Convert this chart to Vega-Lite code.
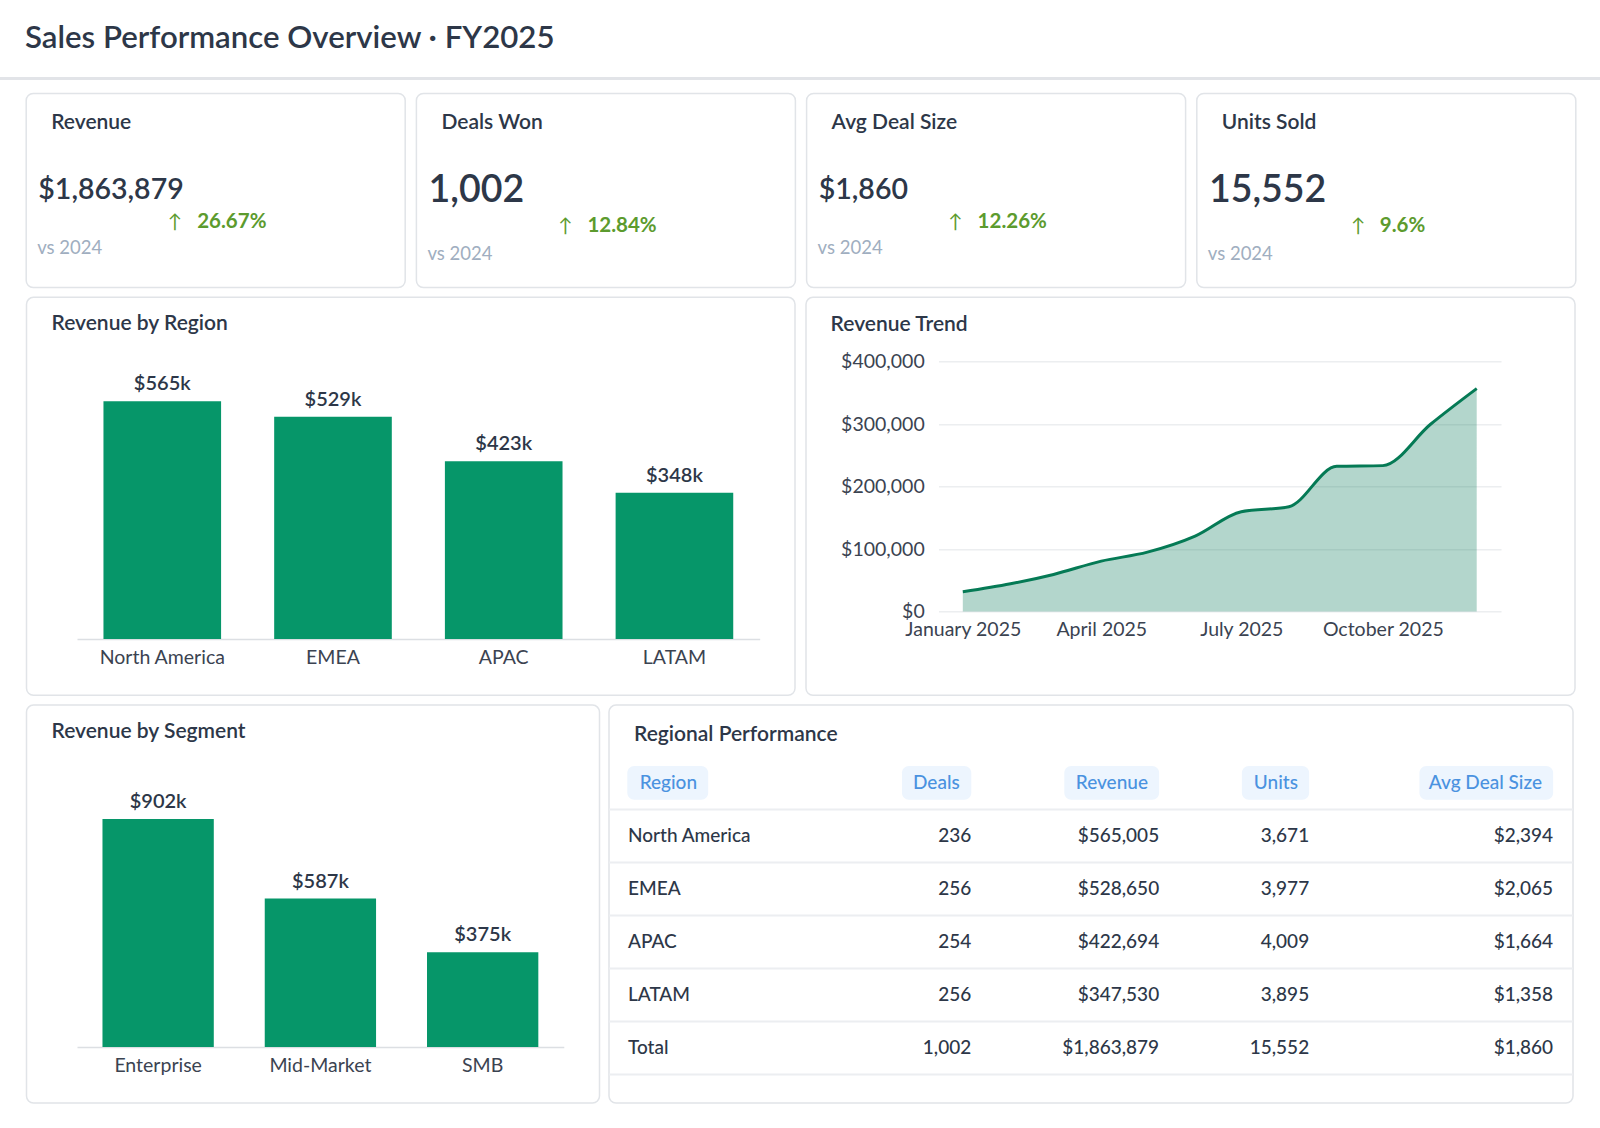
{
  "$schema": "https://vega.github.io/schema/vega-lite/v6.json",
  "background": "#ffffff",
  "padding": {"top": 23, "left": 0, "right": 0, "bottom": 0},
  "config": {
    "font": "Lato",
    "view": {"stroke": "#e1e4e8", "strokeWidth": 1.5, "cornerRadius": 7, "fill": "#ffffff"},
    "title": {"font": "Lato", "fontSize": 21, "fontWeight": 600, "color": "#2d3748", "anchor": "start", "frame": "group"},
    "axis": {"labelFont": "Lato", "labelFontSize": 19.5, "labelColor": "#3b4351", "domain": false, "ticks": false, "tickSize": 0, "grid": false, "title": null, "labelAngle": 0},
    "text": {"font": "Lato"}
  },
  "datasets": {
    "kpi": [
      {"metric": "Revenue", "value": 1863879, "change": 0.2667, "comparison": "vs 2024"},
      {"metric": "Deals Won", "value": 1002, "change": 0.1284, "comparison": "vs 2024"},
      {"metric": "Avg Deal Size", "value": 1860, "change": 0.1226, "comparison": "vs 2024"},
      {"metric": "Units Sold", "value": 15552, "change": 0.096, "comparison": "vs 2024"}
    ],
    "regions": [
      {"region": "North America", "deals": 236, "revenue": 565005, "units": 3671, "avg_deal": 2394},
      {"region": "EMEA", "deals": 256, "revenue": 528650, "units": 3977, "avg_deal": 2065},
      {"region": "APAC", "deals": 254, "revenue": 422694, "units": 4009, "avg_deal": 1664},
      {"region": "LATAM", "deals": 256, "revenue": 347530, "units": 3895, "avg_deal": 1358},
      {"region": "Total", "deals": 1002, "revenue": 1863879, "units": 15552, "avg_deal": 1860}
    ],
    "segments": [
      {"segment": "Enterprise", "revenue": 901842},
      {"segment": "Mid-Market", "revenue": 586951},
      {"segment": "SMB", "revenue": 375086}
    ],
    "trend": [
      {"month": "2025-01-01", "revenue": 31500},
      {"month": "2025-02-01", "revenue": 44300},
      {"month": "2025-03-01", "revenue": 59300},
      {"month": "2025-04-01", "revenue": 80600},
      {"month": "2025-05-01", "revenue": 95000},
      {"month": "2025-06-01", "revenue": 120700},
      {"month": "2025-07-01", "revenue": 159700},
      {"month": "2025-08-01", "revenue": 167700},
      {"month": "2025-09-01", "revenue": 232300},
      {"month": "2025-10-01", "revenue": 233400},
      {"month": "2025-11-01", "revenue": 299600},
      {"month": "2025-12-01", "revenue": 356700}
    ]
  },
  "spacing": 12.5,
  "vconcat": [
    {
      "width": 1600, "height": 3,
      "title": {"text": "Sales Performance Overview · FY2025", "fontSize": 31.2, "offset": 22.4, "dx": 25},
      "view": {"fill": "#e2e4e8", "stroke": null, "cornerRadius": 0},
      "data": {"values": [{}]},
      "mark": {"type": "point", "opacity": 0, "size": 0, "strokeWidth": 0},
      "encoding": {}
    },
    {
      "spacing": 7.8,
      "vconcat": [
        {
          "spacing": 9.2,
          "hconcat": [
            {"width": 15.55, "height": 2, "view": {"stroke": null, "fill": null}, "data": {"values": [{}]}, "mark": {"type": "point", "opacity": 0, "size": 0, "strokeWidth": 0}, "encoding": {}},
            {
              "width": 379, "height": 194,
              "title": {"text": "Revenue", "offset": -39.7, "dx": 25},
              "data": {"name": "kpi"},
              "transform": [{"filter": "datum.metric === 'Revenue'"}],
              "layer": [
                {"mark": {"type": "text", "align": "left", "baseline": "middle", "fontSize": 28.5, "fontWeight": 600, "color": "#2d3748"},
                 "encoding": {"x": {"datum": 3.2, "type": "quantitative", "scale": {"domain": [0, 100], "nice": false, "zero": false}, "axis": null},
                              "y": {"datum": 49.7, "type": "quantitative", "scale": {"domain": [0, 100], "nice": false, "zero": false, "reverse": true}, "axis": null},
                              "text": {"field": "value", "type": "quantitative", "format": "$,.0f"}}},
                {"mark": {"type": "text", "align": "center", "baseline": "middle", "fontSize": 19, "color": "#5c9b2e", "text": "↑"},
                 "encoding": {"x": {"datum": 39.26, "type": "quantitative", "scale": {"domain": [0, 100], "nice": false, "zero": false}, "axis": null},
                              "y": {"datum": 66.4, "type": "quantitative", "scale": {"domain": [0, 100], "nice": false, "zero": false, "reverse": true}, "axis": null}}},
                {"mark": {"type": "text", "align": "left", "baseline": "middle", "fontSize": 20.5, "fontWeight": 700, "color": "#5c9b2e"},
                 "encoding": {"x": {"datum": 45.12, "type": "quantitative", "scale": {"domain": [0, 100], "nice": false, "zero": false}, "axis": null},
                              "y": {"datum": 66.4, "type": "quantitative", "scale": {"domain": [0, 100], "nice": false, "zero": false, "reverse": true}, "axis": null},
                              "text": {"field": "change", "type": "quantitative", "format": ".2~%"}}},
                {"mark": {"type": "text", "align": "left", "baseline": "middle", "fontSize": 18.5, "color": "#a0aec0"},
                 "encoding": {"x": {"datum": 2.9, "type": "quantitative", "scale": {"domain": [0, 100], "nice": false, "zero": false}, "axis": null},
                              "y": {"datum": 79.6, "type": "quantitative", "scale": {"domain": [0, 100], "nice": false, "zero": false, "reverse": true}, "axis": null},
                              "text": {"field": "comparison", "type": "nominal"}}}
              ]
            },
            {
              "width": 379, "height": 194,
              "title": {"text": "Deals Won", "offset": -39.7, "dx": 25},
              "data": {"name": "kpi"},
              "transform": [{"filter": "datum.metric === 'Deals Won'"}],
              "layer": [
                {"mark": {"type": "text", "align": "left", "baseline": "middle", "fontSize": 37.5, "fontWeight": 600, "color": "#2d3748"},
                 "encoding": {"x": {"datum": 3.2, "type": "quantitative", "scale": {"domain": [0, 100], "nice": false, "zero": false}, "axis": null},
                              "y": {"datum": 50.1, "type": "quantitative", "scale": {"domain": [0, 100], "nice": false, "zero": false, "reverse": true}, "axis": null},
                              "text": {"field": "value", "type": "quantitative", "format": ",.0f"}}},
                {"mark": {"type": "text", "align": "center", "baseline": "middle", "fontSize": 19, "color": "#5c9b2e", "text": "↑"},
                 "encoding": {"x": {"datum": 39.3, "type": "quantitative", "scale": {"domain": [0, 100], "nice": false, "zero": false}, "axis": null},
                              "y": {"datum": 68.1, "type": "quantitative", "scale": {"domain": [0, 100], "nice": false, "zero": false, "reverse": true}, "axis": null}}},
                {"mark": {"type": "text", "align": "left", "baseline": "middle", "fontSize": 20.5, "fontWeight": 700, "color": "#5c9b2e"},
                 "encoding": {"x": {"datum": 45.12, "type": "quantitative", "scale": {"domain": [0, 100], "nice": false, "zero": false}, "axis": null},
                              "y": {"datum": 68.1, "type": "quantitative", "scale": {"domain": [0, 100], "nice": false, "zero": false, "reverse": true}, "axis": null},
                              "text": {"field": "change", "type": "quantitative", "format": ".2~%"}}},
                {"mark": {"type": "text", "align": "left", "baseline": "middle", "fontSize": 18.5, "color": "#a0aec0"},
                 "encoding": {"x": {"datum": 2.9, "type": "quantitative", "scale": {"domain": [0, 100], "nice": false, "zero": false}, "axis": null},
                              "y": {"datum": 82.7, "type": "quantitative", "scale": {"domain": [0, 100], "nice": false, "zero": false, "reverse": true}, "axis": null},
                              "text": {"field": "comparison", "type": "nominal"}}}
              ]
            },
            {
              "width": 379, "height": 194,
              "title": {"text": "Avg Deal Size", "offset": -39.7, "dx": 25},
              "data": {"name": "kpi"},
              "transform": [{"filter": "datum.metric === 'Avg Deal Size'"}],
              "layer": [
                {"mark": {"type": "text", "align": "left", "baseline": "middle", "fontSize": 28.5, "fontWeight": 600, "color": "#2d3748"},
                 "encoding": {"x": {"datum": 3.2, "type": "quantitative", "scale": {"domain": [0, 100], "nice": false, "zero": false}, "axis": null},
                              "y": {"datum": 49.7, "type": "quantitative", "scale": {"domain": [0, 100], "nice": false, "zero": false, "reverse": true}, "axis": null},
                              "text": {"field": "value", "type": "quantitative", "format": "$,.0f"}}},
                {"mark": {"type": "text", "align": "center", "baseline": "middle", "fontSize": 19, "color": "#5c9b2e", "text": "↑"},
                 "encoding": {"x": {"datum": 39.26, "type": "quantitative", "scale": {"domain": [0, 100], "nice": false, "zero": false}, "axis": null},
                              "y": {"datum": 66.4, "type": "quantitative", "scale": {"domain": [0, 100], "nice": false, "zero": false, "reverse": true}, "axis": null}}},
                {"mark": {"type": "text", "align": "left", "baseline": "middle", "fontSize": 20.5, "fontWeight": 700, "color": "#5c9b2e"},
                 "encoding": {"x": {"datum": 45.12, "type": "quantitative", "scale": {"domain": [0, 100], "nice": false, "zero": false}, "axis": null},
                              "y": {"datum": 66.4, "type": "quantitative", "scale": {"domain": [0, 100], "nice": false, "zero": false, "reverse": true}, "axis": null},
                              "text": {"field": "change", "type": "quantitative", "format": ".2~%"}}},
                {"mark": {"type": "text", "align": "left", "baseline": "middle", "fontSize": 18.5, "color": "#a0aec0"},
                 "encoding": {"x": {"datum": 2.9, "type": "quantitative", "scale": {"domain": [0, 100], "nice": false, "zero": false}, "axis": null},
                              "y": {"datum": 79.6, "type": "quantitative", "scale": {"domain": [0, 100], "nice": false, "zero": false, "reverse": true}, "axis": null},
                              "text": {"field": "comparison", "type": "nominal"}}}
              ]
            },
            {
              "width": 379, "height": 194,
              "title": {"text": "Units Sold", "offset": -39.7, "dx": 25},
              "data": {"name": "kpi"},
              "transform": [{"filter": "datum.metric === 'Units Sold'"}],
              "layer": [
                {"mark": {"type": "text", "align": "left", "baseline": "middle", "fontSize": 37.5, "fontWeight": 600, "color": "#2d3748"},
                 "encoding": {"x": {"datum": 3.2, "type": "quantitative", "scale": {"domain": [0, 100], "nice": false, "zero": false}, "axis": null},
                              "y": {"datum": 50.1, "type": "quantitative", "scale": {"domain": [0, 100], "nice": false, "zero": false, "reverse": true}, "axis": null},
                              "text": {"field": "value", "type": "quantitative", "format": ",.0f"}}},
                {"mark": {"type": "text", "align": "center", "baseline": "middle", "fontSize": 19, "color": "#5c9b2e", "text": "↑"},
                 "encoding": {"x": {"datum": 42.59, "type": "quantitative", "scale": {"domain": [0, 100], "nice": false, "zero": false}, "axis": null},
                              "y": {"datum": 68.1, "type": "quantitative", "scale": {"domain": [0, 100], "nice": false, "zero": false, "reverse": true}, "axis": null}}},
                {"mark": {"type": "text", "align": "left", "baseline": "middle", "fontSize": 20.5, "fontWeight": 700, "color": "#5c9b2e"},
                 "encoding": {"x": {"datum": 48.28, "type": "quantitative", "scale": {"domain": [0, 100], "nice": false, "zero": false}, "axis": null},
                              "y": {"datum": 68.1, "type": "quantitative", "scale": {"domain": [0, 100], "nice": false, "zero": false, "reverse": true}, "axis": null},
                              "text": {"field": "change", "type": "quantitative", "format": ".2~%"}}},
                {"mark": {"type": "text", "align": "left", "baseline": "middle", "fontSize": 18.5, "color": "#a0aec0"},
                 "encoding": {"x": {"datum": 2.9, "type": "quantitative", "scale": {"domain": [0, 100], "nice": false, "zero": false}, "axis": null},
                              "y": {"datum": 82.7, "type": "quantitative", "scale": {"domain": [0, 100], "nice": false, "zero": false, "reverse": true}, "axis": null},
                              "text": {"field": "comparison", "type": "nominal"}}}
              ]
            }
          ]
        },
        {
          "spacing": 8.5,
          "hconcat": [
            {"width": 16.25, "height": 2, "view": {"stroke": null, "fill": null}, "data": {"values": [{}]}, "mark": {"type": "point", "opacity": 0, "size": 0, "strokeWidth": 0}, "encoding": {}},
            {
              "width": 768.5, "height": 398,
              "title": {"text": "Revenue by Region", "offset": -36.7, "dx": 25},
              "data": {"name": "regions"},
              "transform": [{"filter": "datum.region !== 'Total'"}],
              "encoding": {
                "x": {"field": "region", "type": "nominal", "sort": null,
                      "scale": {"range": [50.5, 733.2], "paddingInner": 0.311, "paddingOuter": 0.155},
                      "axis": {"domain": true, "domainColor": "#dcdfe3", "domainWidth": 1.5, "offset": -56.2, "labelPadding": 9.3}},
                "y": {"field": "revenue", "type": "quantitative", "scale": {"domain": [0, 600000], "range": [341.8, 89.3], "nice": false, "zero": false}, "axis": null}
              },
              "layer": [
                {"mark": {"type": "bar", "color": "#069669"}},
                {"mark": {"type": "text", "baseline": "alphabetic", "dy": -11, "fontSize": 20, "fontWeight": 600, "color": "#2d3748"},
                 "encoding": {"text": {"field": "revenue", "type": "quantitative", "format": "$.3s"}}}
              ]
            },
            {
              "width": 769, "height": 398,
              "title": {"text": "Revenue Trend", "offset": -37.4, "dx": 24.6},
              "data": {"name": "trend"},
              "encoding": {
                "x": {"field": "month", "type": "temporal",
                      "scale": {"type": "utc", "range": [132.5, 695], "padding": 24.3},
                      "axis": {"format": "%B %Y", "tickCount": {"interval": "month", "step": 3}, "offset": -83.8, "labelPadding": 8.5, "labelFlush": false, "labelOverlap": false}},
                "y": {"field": "revenue", "type": "quantitative",
                      "scale": {"domain": [0, 400000], "range": [314.2, 64.2], "nice": false, "zero": false},
                      "axis": {"values": [0, 100000, 200000, 300000, 400000], "format": "$,.0f", "grid": true, "gridColor": "#eceef0", "gridWidth": 1.5, "offset": -132.5, "labelPadding": 14.3}}
              },
              "layer": [
                {"mark": {"type": "area", "interpolate": "monotone", "color": "#047857", "fillOpacity": 0.3}},
                {"mark": {"type": "line", "interpolate": "monotone", "color": "#057a55", "strokeWidth": 3}}
              ]
            }
          ]
        },
        {
          "spacing": 6.5,
          "hconcat": [
            {"width": 18.25, "height": 2, "view": {"stroke": null, "fill": null}, "data": {"values": [{}]}, "mark": {"type": "point", "opacity": 0, "size": 0, "strokeWidth": 0}, "encoding": {}},
            {
              "width": 573, "height": 398,
              "title": {"text": "Revenue by Segment", "offset": -36.7, "dx": 25},
              "data": {"name": "segments"},
              "encoding": {
                "x": {"field": "segment", "type": "nominal", "sort": null,
                      "scale": {"range": [50.5, 537.3], "paddingInner": 0.314, "paddingOuter": 0.157},
                      "axis": {"domain": true, "domainColor": "#dcdfe3", "domainWidth": 1.5, "offset": -56.1, "labelPadding": 9.3}},
                "y": {"field": "revenue", "type": "quantitative", "scale": {"domain": [0, 1000000], "range": [341.9, 89.1], "nice": false, "zero": false}, "axis": null}
              },
              "layer": [
                {"mark": {"type": "bar", "color": "#069669"}},
                {"mark": {"type": "text", "baseline": "alphabetic", "dy": -11, "fontSize": 20, "fontWeight": 600, "color": "#2d3748"},
                 "encoding": {"text": {"field": "revenue", "type": "quantitative", "format": "$.3s"}}}
              ]
            },
            {
              "width": 964, "height": 398,
              "title": {"text": "Regional Performance", "offset": -39.6, "dx": 25},
              "data": {"name": "regions"},
              "layer": [
                {"mark": {"type": "rule", "color": "#eceef1", "strokeWidth": 2},
                 "encoding": {"y": {"field": "region", "type": "nominal", "bandPosition": 1, "scale": {"domain": ["Region", "North America", "EMEA", "APAC", "LATAM", "Total"], "paddingInner": 0, "paddingOuter": 0.7547, "align": 0.641}, "axis": null}}},
                {
                  "data": {"values": [{}]},
                  "layer": [
                    {"mark": {"type": "rule", "color": "#eceef1", "strokeWidth": 2},
                     "encoding": {"y": {"datum": "Region", "type": "nominal", "bandPosition": 1, "scale": {"domain": ["Region", "North America", "EMEA", "APAC", "LATAM", "Total"], "paddingInner": 0, "paddingOuter": 0.7547, "align": 0.641}, "axis": null}}},
                    {"mark": {"type": "bar", "color": "#edf5fe", "cornerRadius": 7, "height": {"band": 0.64}},
                     "encoding": {"x": {"datum": 1.9, "type": "quantitative", "scale": {"domain": [0, 100], "nice": false, "zero": false}, "axis": null}, "x2": {"datum": 10.29},
                                  "y": {"datum": "Region", "type": "nominal", "scale": {"domain": ["Region", "North America", "EMEA", "APAC", "LATAM", "Total"], "paddingInner": 0, "paddingOuter": 0.7547, "align": 0.641}, "axis": null}}},
                    {"mark": {"type": "bar", "color": "#edf5fe", "cornerRadius": 7, "height": {"band": 0.64}},
                     "encoding": {"x": {"datum": 30.39, "type": "quantitative", "scale": {"domain": [0, 100], "nice": false, "zero": false}, "axis": null}, "x2": {"datum": 37.58},
                                  "y": {"datum": "Region", "type": "nominal", "scale": {"domain": ["Region", "North America", "EMEA", "APAC", "LATAM", "Total"], "paddingInner": 0, "paddingOuter": 0.7547, "align": 0.641}, "axis": null}}},
                    {"mark": {"type": "bar", "color": "#edf5fe", "cornerRadius": 7, "height": {"band": 0.64}},
                     "encoding": {"x": {"datum": 47.23, "type": "quantitative", "scale": {"domain": [0, 100], "nice": false, "zero": false}, "axis": null}, "x2": {"datum": 57.07},
                                  "y": {"datum": "Region", "type": "nominal", "scale": {"domain": ["Region", "North America", "EMEA", "APAC", "LATAM", "Total"], "paddingInner": 0, "paddingOuter": 0.7547, "align": 0.641}, "axis": null}}},
                    {"mark": {"type": "bar", "color": "#edf5fe", "cornerRadius": 7, "height": {"band": 0.64}},
                     "encoding": {"x": {"datum": 65.65, "type": "quantitative", "scale": {"domain": [0, 100], "nice": false, "zero": false}, "axis": null}, "x2": {"datum": 72.63},
                                  "y": {"datum": "Region", "type": "nominal", "scale": {"domain": ["Region", "North America", "EMEA", "APAC", "LATAM", "Total"], "paddingInner": 0, "paddingOuter": 0.7547, "align": 0.641}, "axis": null}}},
                    {"mark": {"type": "bar", "color": "#edf5fe", "cornerRadius": 7, "height": {"band": 0.64}},
                     "encoding": {"x": {"datum": 84.07, "type": "quantitative", "scale": {"domain": [0, 100], "nice": false, "zero": false}, "axis": null}, "x2": {"datum": 97.94},
                                  "y": {"datum": "Region", "type": "nominal", "scale": {"domain": ["Region", "North America", "EMEA", "APAC", "LATAM", "Total"], "paddingInner": 0, "paddingOuter": 0.7547, "align": 0.641}, "axis": null}}},
                    {"mark": {"type": "text", "text": "Region", "align": "left", "baseline": "middle", "fontSize": 19, "fontWeight": 500, "color": "#4a92e0"},
                     "encoding": {"x": {"datum": 3.18, "type": "quantitative", "scale": {"domain": [0, 100], "nice": false, "zero": false}, "axis": null},
                                  "y": {"datum": "Region", "type": "nominal", "scale": {"domain": ["Region", "North America", "EMEA", "APAC", "LATAM", "Total"], "paddingInner": 0, "paddingOuter": 0.7547, "align": 0.641}, "axis": null}}},
                    {"mark": {"type": "text", "text": "Deals", "align": "right", "baseline": "middle", "fontSize": 19, "fontWeight": 500, "color": "#4a92e0"},
                     "encoding": {"x": {"datum": 36.38, "type": "quantitative", "scale": {"domain": [0, 100], "nice": false, "zero": false}, "axis": null},
                                  "y": {"datum": "Region", "type": "nominal", "scale": {"domain": ["Region", "North America", "EMEA", "APAC", "LATAM", "Total"], "paddingInner": 0, "paddingOuter": 0.7547, "align": 0.641}, "axis": null}}},
                    {"mark": {"type": "text", "text": "Revenue", "align": "right", "baseline": "middle", "fontSize": 19, "fontWeight": 500, "color": "#4a92e0"},
                     "encoding": {"x": {"datum": 55.91, "type": "quantitative", "scale": {"domain": [0, 100], "nice": false, "zero": false}, "axis": null},
                                  "y": {"datum": "Region", "type": "nominal", "scale": {"domain": ["Region", "North America", "EMEA", "APAC", "LATAM", "Total"], "paddingInner": 0, "paddingOuter": 0.7547, "align": 0.641}, "axis": null}}},
                    {"mark": {"type": "text", "text": "Units", "align": "right", "baseline": "middle", "fontSize": 19, "fontWeight": 500, "color": "#4a92e0"},
                     "encoding": {"x": {"datum": 71.47, "type": "quantitative", "scale": {"domain": [0, 100], "nice": false, "zero": false}, "axis": null},
                                  "y": {"datum": "Region", "type": "nominal", "scale": {"domain": ["Region", "North America", "EMEA", "APAC", "LATAM", "Total"], "paddingInner": 0, "paddingOuter": 0.7547, "align": 0.641}, "axis": null}}},
                    {"mark": {"type": "text", "text": "Avg Deal Size", "align": "right", "baseline": "middle", "fontSize": 19, "fontWeight": 500, "color": "#4a92e0"},
                     "encoding": {"x": {"datum": 96.78, "type": "quantitative", "scale": {"domain": [0, 100], "nice": false, "zero": false}, "axis": null},
                                  "y": {"datum": "Region", "type": "nominal", "scale": {"domain": ["Region", "North America", "EMEA", "APAC", "LATAM", "Total"], "paddingInner": 0, "paddingOuter": 0.7547, "align": 0.641}, "axis": null}}}
                  ]
                },
                {"mark": {"type": "text", "align": "left", "baseline": "middle", "fontSize": 19, "fontWeight": 500, "color": "#2d3748"},
                 "encoding": {"x": {"datum": 1.97, "type": "quantitative", "scale": {"domain": [0, 100], "nice": false, "zero": false}, "axis": null},
                              "y": {"field": "region", "type": "nominal", "scale": {"domain": ["Region", "North America", "EMEA", "APAC", "LATAM", "Total"], "paddingInner": 0, "paddingOuter": 0.7547, "align": 0.641}, "axis": null},
                              "text": {"field": "region", "type": "nominal"}}},
                {"mark": {"type": "text", "align": "right", "baseline": "middle", "fontSize": 19, "fontWeight": 500, "color": "#2d3748"},
                 "encoding": {"x": {"datum": 37.58, "type": "quantitative", "scale": {"domain": [0, 100], "nice": false, "zero": false}, "axis": null},
                              "y": {"field": "region", "type": "nominal", "scale": {"domain": ["Region", "North America", "EMEA", "APAC", "LATAM", "Total"], "paddingInner": 0, "paddingOuter": 0.7547, "align": 0.641}, "axis": null},
                              "text": {"field": "deals", "type": "quantitative", "format": ",.0f"}}},
                {"mark": {"type": "text", "align": "right", "baseline": "middle", "fontSize": 19, "fontWeight": 500, "color": "#2d3748"},
                 "encoding": {"x": {"datum": 57.07, "type": "quantitative", "scale": {"domain": [0, 100], "nice": false, "zero": false}, "axis": null},
                              "y": {"field": "region", "type": "nominal", "scale": {"domain": ["Region", "North America", "EMEA", "APAC", "LATAM", "Total"], "paddingInner": 0, "paddingOuter": 0.7547, "align": 0.641}, "axis": null},
                              "text": {"field": "revenue", "type": "quantitative", "format": "$,.0f"}}},
                {"mark": {"type": "text", "align": "right", "baseline": "middle", "fontSize": 19, "fontWeight": 500, "color": "#2d3748"},
                 "encoding": {"x": {"datum": 72.63, "type": "quantitative", "scale": {"domain": [0, 100], "nice": false, "zero": false}, "axis": null},
                              "y": {"field": "region", "type": "nominal", "scale": {"domain": ["Region", "North America", "EMEA", "APAC", "LATAM", "Total"], "paddingInner": 0, "paddingOuter": 0.7547, "align": 0.641}, "axis": null},
                              "text": {"field": "units", "type": "quantitative", "format": ",.0f"}}},
                {"mark": {"type": "text", "align": "right", "baseline": "middle", "fontSize": 19, "fontWeight": 500, "color": "#2d3748"},
                 "encoding": {"x": {"datum": 97.94, "type": "quantitative", "scale": {"domain": [0, 100], "nice": false, "zero": false}, "axis": null},
                              "y": {"field": "region", "type": "nominal", "scale": {"domain": ["Region", "North America", "EMEA", "APAC", "LATAM", "Total"], "paddingInner": 0, "paddingOuter": 0.7547, "align": 0.641}, "axis": null},
                              "text": {"field": "avg_deal", "type": "quantitative", "format": "$,.0f"}}}
              ]
            }
          ]
        }
      ]
    }
  ]
}
